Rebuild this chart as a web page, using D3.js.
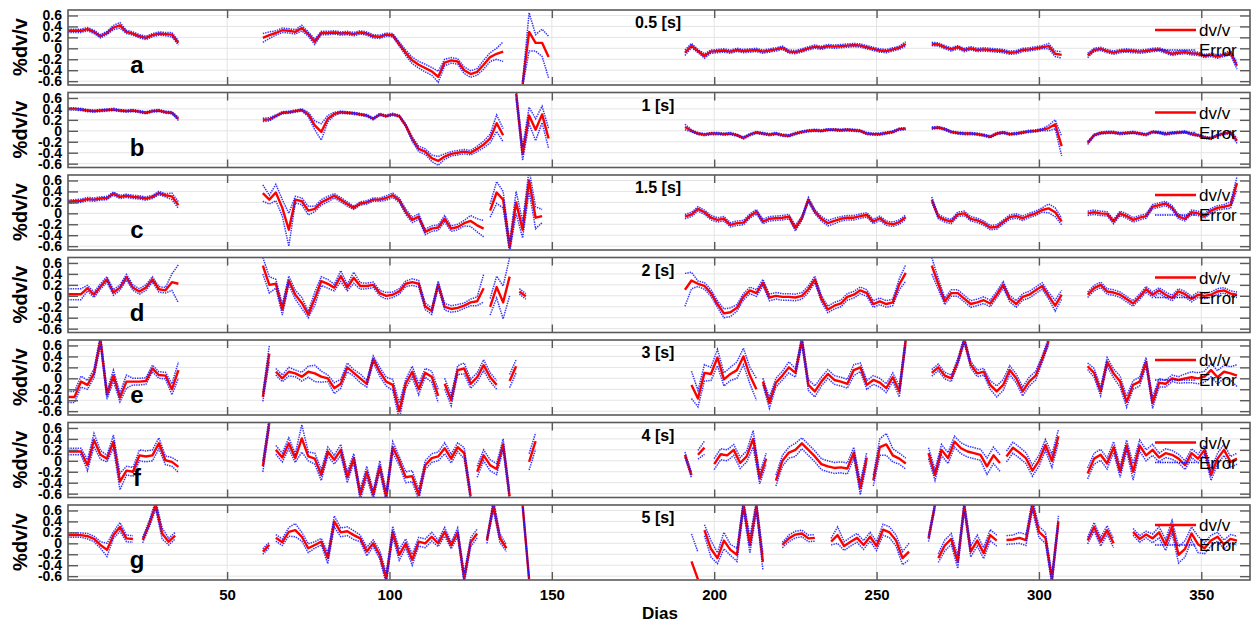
<!DOCTYPE html>
<html><head><meta charset="utf-8">
<script src="https://cdn.jsdelivr.net/npm/d3@7"></script>
<style>body{margin:0;background:#fff;} svg{display:block;font-family:"Liberation Sans",Arial,sans-serif;}</style>
</head><body><svg id="c" width="1254" height="622"></svg>
<script>
const periods = ["0.5 [s]","1 [s]","1.5 [s]","2 [s]","3 [s]","4 [s]","5 [s]"];
const letters = ["a","b","c","d","e","f","g"];
const yTicks = [-0.6,-0.4,-0.2,0,0.2,0.4,0.6];
const xTicks = [50,100,150,200,250,300,350];
const xLabel = "Dias", yLabel = "%dv/v";
const legendLabels = ["dv/v","Error"];
const dayStep = 2;

// ---- Panel a (0.5 s) ----
const startsA = [1,61,141,191,267,315];
const dvA = [
[0.32,0.32,0.32,0.35,0.30,0.22,0.28,0.38,0.42,0.30,0.27,0.22,0.19,0.24,0.27,0.26,0.25,0.10],
[0.19,0.24,0.28,0.33,0.32,0.30,0.37,0.26,0.12,0.28,0.28,0.29,0.27,0.28,0.26,0.29,0.27,0.22,0.21,0.25,0.24,0.08,-0.08,-0.22,-0.30,-0.36,-0.42,-0.52,-0.26,-0.22,-0.24,-0.40,-0.47,-0.43,-0.30,-0.16,-0.10,-0.06],
[-0.65,0.30,0.10,0.10,-0.16],
[-0.08,0.05,-0.05,-0.14,-0.06,-0.05,-0.04,-0.06,-0.03,-0.05,-0.04,-0.03,-0.06,-0.04,-0.02,0.01,-0.06,-0.07,-0.04,0.00,0.03,0.01,0.04,0.03,0.04,0.05,0.06,0.05,0.02,-0.01,-0.04,-0.05,-0.02,0.01,0.08],
[0.08,0.07,0.02,-0.02,0.02,-0.03,0.00,-0.03,-0.02,-0.03,-0.04,-0.05,-0.08,-0.07,-0.03,-0.02,0.00,0.02,0.04,-0.10,-0.12],
[-0.13,-0.03,-0.01,-0.05,-0.08,-0.05,-0.04,-0.05,-0.06,-0.05,-0.03,-0.02,-0.06,-0.10,-0.08,-0.07,-0.09,-0.10,-0.14,-0.12,-0.15,-0.12,-0.08,-0.32]];
const erA = [
[0.03,0.03,0.03,0.03,0.03,0.03,0.03,0.04,0.05,0.03,0.03,0.03,0.03,0.03,0.03,0.03,0.04,0.04],
[0.08,0.06,0.04,0.04,0.04,0.04,0.05,0.04,0.05,0.03,0.03,0.03,0.03,0.03,0.03,0.03,0.03,0.03,0.03,0.03,0.03,0.04,0.05,0.06,0.06,0.07,0.07,0.10,0.06,0.05,0.05,0.06,0.06,0.06,0.08,0.08,0.10,0.18],
[0.05,0.35,0.15,0.25,0.38],
[0.05,0.04,0.03,0.04,0.03,0.03,0.03,0.03,0.03,0.03,0.03,0.03,0.03,0.03,0.03,0.03,0.03,0.03,0.03,0.03,0.03,0.03,0.03,0.03,0.03,0.03,0.03,0.03,0.03,0.03,0.03,0.03,0.03,0.03,0.04],
[0.03,0.03,0.03,0.03,0.03,0.03,0.03,0.03,0.03,0.03,0.03,0.03,0.03,0.03,0.03,0.03,0.03,0.03,0.05,0.05,0.06],
[0.04,0.03,0.03,0.03,0.03,0.03,0.03,0.03,0.03,0.03,0.03,0.03,0.03,0.03,0.03,0.03,0.03,0.03,0.03,0.03,0.03,0.03,0.04,0.06]];

// ---- Panel b (1 s) ----
const startsB = [1,61,139,191,267,315];
const dvB = [
[0.40,0.40,0.39,0.37,0.36,0.37,0.38,0.39,0.37,0.36,0.37,0.35,0.33,0.36,0.37,0.34,0.33,0.22],
[0.20,0.21,0.27,0.33,0.34,0.36,0.38,0.30,0.10,-0.02,0.22,0.31,0.34,0.33,0.32,0.30,0.28,0.22,0.30,0.27,0.30,0.27,0.10,-0.15,-0.33,-0.38,-0.50,-0.55,-0.47,-0.42,-0.40,-0.38,-0.40,-0.33,-0.25,-0.14,0.14,-0.08],
[0.68,-0.42,0.28,0.02,0.30,-0.14],
[0.07,0.00,-0.05,-0.07,-0.05,-0.05,-0.06,-0.05,-0.08,-0.13,-0.07,-0.03,-0.05,-0.07,-0.05,-0.08,-0.09,-0.05,-0.02,0.00,0.01,0.00,0.02,0.02,0.01,0.02,0.01,0.00,-0.05,-0.06,-0.06,-0.04,-0.02,0.03,0.04],
[0.05,0.06,0.03,-0.02,-0.04,-0.05,-0.05,-0.06,-0.08,-0.11,-0.05,-0.03,-0.06,-0.05,-0.03,-0.01,0.00,0.02,0.05,0.12,-0.28],
[-0.22,-0.08,-0.04,-0.03,-0.03,-0.05,-0.04,-0.03,-0.05,-0.07,-0.02,-0.03,-0.06,-0.04,-0.03,-0.02,-0.06,-0.08,-0.12,-0.14,-0.08,-0.05,-0.03,-0.18]];
const erB = [
[0.02,0.02,0.02,0.02,0.02,0.02,0.02,0.02,0.02,0.02,0.02,0.02,0.02,0.02,0.02,0.02,0.02,0.03],
[0.03,0.03,0.02,0.02,0.02,0.02,0.02,0.04,0.08,0.15,0.06,0.03,0.02,0.02,0.02,0.02,0.02,0.02,0.02,0.02,0.02,0.02,0.03,0.04,0.05,0.05,0.06,0.08,0.05,0.04,0.04,0.04,0.04,0.05,0.06,0.08,0.15,0.12],
[0.10,0.12,0.15,0.20,0.15,0.18],
[0.05,0.02,0.02,0.02,0.02,0.02,0.02,0.02,0.02,0.02,0.02,0.02,0.02,0.02,0.02,0.02,0.02,0.02,0.02,0.02,0.02,0.02,0.02,0.02,0.02,0.02,0.02,0.02,0.02,0.02,0.02,0.02,0.02,0.02,0.02],
[0.02,0.02,0.02,0.02,0.02,0.02,0.02,0.02,0.02,0.02,0.02,0.02,0.02,0.02,0.02,0.02,0.02,0.02,0.05,0.08,0.18],
[0.03,0.02,0.02,0.02,0.02,0.02,0.02,0.02,0.02,0.02,0.02,0.02,0.02,0.02,0.02,0.02,0.02,0.02,0.02,0.02,0.02,0.02,0.02,0.05]];

// ---- Panel c (1.5 s) ----
const startsC = [1,61,131,191,267,315];
const dvC = [
[0.21,0.22,0.23,0.26,0.25,0.27,0.28,0.36,0.30,0.32,0.30,0.29,0.27,0.30,0.37,0.33,0.31,0.15],
[0.37,0.25,0.38,0.10,-0.30,0.25,0.22,0.05,0.08,0.20,0.26,0.32,0.25,0.17,0.10,0.18,0.20,0.25,0.25,0.28,0.33,0.24,0.03,-0.12,-0.06,-0.34,-0.28,-0.26,-0.10,-0.28,-0.25,-0.18,-0.14,-0.22,-0.28],
[0.05,0.38,0.25,-0.62,0.20,-0.30,0.60,-0.08,-0.05],
[-0.06,-0.02,0.08,0.02,-0.08,-0.12,-0.10,-0.21,-0.18,-0.17,-0.05,0.03,-0.15,-0.10,-0.09,-0.08,-0.06,-0.27,-0.09,0.25,0.03,-0.10,-0.18,-0.14,-0.10,-0.08,-0.08,-0.05,-0.03,-0.15,-0.09,-0.18,-0.20,-0.16,-0.07],
[0.25,-0.06,-0.12,-0.15,-0.02,0.00,-0.10,-0.13,-0.18,-0.26,-0.25,-0.16,-0.07,-0.05,-0.09,-0.04,0.00,0.06,0.09,0.02,-0.15],
[0.00,0.02,0.00,-0.01,-0.15,0.00,-0.05,-0.12,-0.08,-0.05,0.12,0.15,0.18,0.10,-0.06,-0.10,0.02,0.00,-0.05,0.05,0.10,0.12,0.15,0.55]];
const erC = [
[0.03,0.03,0.03,0.03,0.03,0.03,0.03,0.03,0.03,0.03,0.03,0.03,0.03,0.03,0.03,0.03,0.06,0.06],
[0.15,0.08,0.15,0.15,0.30,0.06,0.06,0.08,0.05,0.05,0.05,0.04,0.04,0.04,0.03,0.03,0.03,0.03,0.03,0.04,0.04,0.04,0.05,0.05,0.05,0.05,0.05,0.05,0.06,0.05,0.05,0.05,0.10,0.12,0.15],
[0.12,0.20,0.15,0.10,0.20,0.15,0.20,0.20,0.12],
[0.04,0.04,0.04,0.04,0.04,0.04,0.04,0.04,0.04,0.04,0.04,0.04,0.04,0.04,0.04,0.04,0.04,0.05,0.04,0.04,0.04,0.04,0.05,0.05,0.04,0.04,0.04,0.04,0.04,0.04,0.04,0.04,0.04,0.04,0.04],
[0.05,0.04,0.04,0.04,0.04,0.04,0.04,0.04,0.04,0.04,0.04,0.04,0.04,0.04,0.04,0.04,0.04,0.04,0.08,0.08,0.06],
[0.04,0.04,0.04,0.04,0.04,0.04,0.04,0.04,0.04,0.04,0.04,0.04,0.04,0.04,0.04,0.04,0.04,0.04,0.04,0.04,0.04,0.04,0.06,0.12]];

// ---- Panel d (2 s) ----
const startsD = [1,61,131,140,191,267,315];
const dvD = [
[0.03,0.03,0.03,0.14,0.02,0.17,0.30,0.06,0.15,0.34,0.15,0.08,0.15,0.30,0.12,0.10,0.25,0.22],
[0.55,0.20,0.22,-0.25,0.28,0.02,-0.13,-0.34,-0.05,0.27,0.22,0.15,0.36,0.15,0.33,0.18,0.18,0.20,0.05,0.00,0.02,0.08,0.22,0.25,0.22,-0.19,-0.28,0.21,-0.20,-0.24,-0.22,-0.18,-0.12,-0.10,0.14],
[-0.20,0.16,-0.12,0.35],
[0.08,-0.01],
[0.11,0.28,0.22,0.18,0.05,-0.15,-0.32,-0.30,-0.22,-0.02,0.10,0.05,0.24,-0.03,0.00,-0.02,-0.02,-0.03,0.00,0.12,0.30,-0.05,-0.25,-0.18,-0.14,-0.02,0.02,0.10,0.05,-0.15,-0.10,-0.15,-0.12,0.21,0.42],
[0.55,0.22,-0.10,0.05,0.05,-0.05,-0.15,-0.12,-0.08,-0.14,0.02,0.20,-0.05,-0.15,-0.02,0.02,0.10,0.18,0.00,-0.18,0.02],
[0.02,0.14,0.20,0.08,0.06,0.02,-0.06,-0.14,-0.02,0.12,0.02,0.10,0.02,-0.04,0.08,0.03,-0.06,0.02,0.00,0.02,0.08,0.10,0.04,0.02]];
const erD = [
[0.10,0.10,0.10,0.05,0.05,0.05,0.05,0.05,0.05,0.05,0.05,0.05,0.05,0.05,0.05,0.05,0.15,0.35],
[0.15,0.15,0.08,0.10,0.08,0.08,0.10,0.06,0.12,0.08,0.08,0.06,0.10,0.06,0.10,0.06,0.05,0.05,0.05,0.06,0.05,0.05,0.05,0.06,0.06,0.06,0.06,0.06,0.06,0.06,0.06,0.05,0.06,0.08,0.25],
[0.15,0.20,0.30,0.35],
[0.05,0.05],
[0.30,0.15,0.05,0.06,0.06,0.06,0.08,0.08,0.06,0.06,0.06,0.06,0.06,0.06,0.06,0.06,0.06,0.06,0.06,0.06,0.06,0.06,0.06,0.06,0.06,0.06,0.06,0.06,0.06,0.06,0.06,0.06,0.06,0.10,0.15],
[0.15,0.10,0.06,0.06,0.06,0.06,0.06,0.06,0.06,0.06,0.06,0.06,0.06,0.06,0.06,0.06,0.06,0.06,0.06,0.10,0.08],
[0.05,0.05,0.05,0.05,0.05,0.05,0.05,0.05,0.05,0.05,0.05,0.05,0.05,0.05,0.05,0.05,0.05,0.05,0.05,0.05,0.05,0.05,0.05,0.05]];

// ---- Panel e (3 s) ----
const startsE = [1,61,65,117,137,193,215,267,315];
const dvE = [
[-0.34,-0.34,-0.06,-0.12,0.09,0.70,-0.30,0.05,-0.35,-0.06,-0.06,-0.06,-0.05,0.18,0.06,0.05,-0.20,0.15],
[-0.34,0.45],
[0.12,0.00,0.12,0.09,0.03,0.12,0.09,0.03,0.00,-0.18,-0.10,0.20,0.10,0.00,-0.10,0.35,0.12,-0.06,-0.12,-0.60,-0.10,0.12,-0.20,0.10,0.03,-0.32],
[-0.10,-0.40,0.15,0.18,-0.10,0.02,0.24,0.02,-0.12],
[-0.05,0.22],
[-0.12,-0.37,0.10,0.08,0.38,-0.02,0.08,0.15,0.40,0.05,-0.20],
[-0.06,-0.45,-0.08,0.05,0.20,0.10,0.70,-0.12,-0.24,-0.06,0.08,-0.03,-0.06,-0.10,0.15,0.20,-0.12,-0.03,-0.08,-0.18,0.02,-0.24,0.70],
[0.10,0.20,0.05,0.00,0.30,0.70,0.25,0.09,0.12,-0.12,-0.24,-0.12,0.15,0.00,-0.24,-0.06,0.05,0.35,0.68],
[0.22,0.10,-0.24,0.30,0.09,-0.06,-0.43,-0.12,-0.06,0.30,-0.45,-0.08,-0.10,0.00,-0.03,0.00,0.02,0.00,0.03,0.15,0.02,0.12,0.09,0.05]];
const erE = [
[0.10,0.10,0.10,0.08,0.08,0.10,0.08,0.10,0.08,0.12,0.06,0.06,0.06,0.06,0.06,0.06,0.10,0.15],
[0.08,0.15],
[0.06,0.06,0.08,0.06,0.08,0.10,0.15,0.10,0.06,0.10,0.08,0.08,0.06,0.08,0.06,0.06,0.08,0.08,0.10,0.15,0.08,0.10,0.10,0.08,0.10,0.12],
[0.10,0.10,0.08,0.10,0.08,0.08,0.10,0.08,0.08],
[0.12,0.12],
[0.25,0.15,0.15,0.12,0.15,0.12,0.12,0.15,0.15,0.15,0.20],
[0.06,0.10,0.08,0.08,0.10,0.08,0.08,0.10,0.10,0.08,0.08,0.08,0.08,0.08,0.10,0.08,0.08,0.08,0.08,0.08,0.08,0.10,0.10],
[0.06,0.06,0.06,0.06,0.06,0.06,0.06,0.06,0.06,0.08,0.10,0.10,0.08,0.08,0.08,0.08,0.08,0.06,0.06],
[0.06,0.08,0.08,0.08,0.08,0.10,0.10,0.08,0.08,0.08,0.10,0.08,0.06,0.06,0.06,0.08,0.10,0.10,0.10,0.12,0.12,0.12,0.12,0.20]];

// ---- Panel f (4 s) ----
const startsF = [1,61,65,127,143,191,195,200,219,249,266,290,315];
const dvF = [
[0.17,0.17,0.17,-0.08,0.38,0.11,0.04,0.35,-0.38,-0.18,-0.20,0.10,0.08,0.10,0.32,0.01,-0.02,-0.11],
[-0.10,0.70],
[0.20,0.06,0.32,0.05,0.41,0.08,0.04,-0.26,0.17,0.02,0.20,-0.30,0.05,-0.62,-0.20,-0.62,-0.10,-0.65,0.25,0.00,-0.30,-0.28,-0.62,-0.08,0.05,0.08,0.23,0.04,0.25,0.14,-0.65],
[-0.20,0.10,-0.08,-0.15,0.30,-0.65],
[-0.02,0.36],
[0.11,-0.26],
[0.11,0.24],
[-0.06,0.12,0.10,0.20,-0.04,0.08,0.40,-0.32,0.04],
[-0.36,0.00,0.15,0.20,0.32,0.20,0.08,-0.06,-0.10,-0.13,-0.12,-0.14,0.15,-0.50,0.06],
[-0.36,0.25,0.30,0.10,0.04,-0.05],
[0.14,-0.26,0.20,0.05,0.35,0.23,0.17,0.14,0.11,-0.10,0.10,-0.04],
[0.08,0.24,0.15,0.05,-0.18,0.00,0.29,0.00,0.45],
[-0.23,0.04,0.11,-0.05,0.25,-0.20,0.28,-0.20,0.28,0.10,0.20,0.06,0.14,0.11,0.04,-0.08,0.14,0.04,0.20,-0.26,0.04,0.20,-0.02,0.04]];
const erF = [
[0.06,0.06,0.06,0.10,0.12,0.08,0.06,0.12,0.15,0.08,0.08,0.10,0.10,0.10,0.10,0.08,0.08,0.10],
[0.10,0.10],
[0.08,0.08,0.10,0.08,0.25,0.08,0.10,0.10,0.08,0.08,0.10,0.10,0.08,0.10,0.10,0.08,0.10,0.10,0.10,0.08,0.10,0.10,0.10,0.08,0.08,0.08,0.10,0.08,0.08,0.10,0.10],
[0.10,0.10,0.10,0.10,0.10,0.10],
[0.15,0.15],
[0.05,0.05],
[0.08,0.12],
[0.10,0.10,0.10,0.10,0.10,0.10,0.15,0.10,0.10],
[0.10,0.10,0.10,0.12,0.10,0.10,0.10,0.10,0.10,0.10,0.10,0.10,0.10,0.12,0.10],
[0.10,0.15,0.20,0.12,0.10,0.10],
[0.10,0.10,0.10,0.10,0.10,0.10,0.10,0.10,0.10,0.15,0.15,0.15],
[0.10,0.10,0.10,0.10,0.10,0.10,0.10,0.12,0.12],
[0.10,0.10,0.10,0.10,0.10,0.10,0.10,0.15,0.10,0.10,0.10,0.08,0.08,0.08,0.08,0.08,0.08,0.08,0.08,0.10,0.10,0.10,0.10,0.10]];

// ---- Panel g (5 s) ----
const startsG = [1,24,61,65,130,141,193,197,221,236,266,269,290,315,329];
const dvG = [
[0.15,0.15,0.15,0.13,0.08,-0.03,-0.12,0.15,0.30,0.09,0.08],
[0.06,0.35,0.70,0.18,0.03,0.14],
[-0.15,-0.03],
[0.10,0.02,0.21,0.24,0.12,-0.09,-0.03,0.03,-0.27,0.40,0.20,0.22,0.15,0.09,-0.15,0.00,-0.21,-0.64,0.21,-0.21,0.00,-0.30,0.03,0.00,0.12,0.00,0.21,-0.04,0.20,-0.64,0.02,0.18],
[0.05,0.70,0.10,-0.09],
[0.70,-0.66],
[-0.33,-0.66],
[0.24,-0.10,-0.27,0.05,-0.12,-0.21,0.70,-0.03,0.68,-0.34],
[-0.03,0.09,0.16,0.18,0.09,0.10],
[0.03,0.15,-0.05,0.03,0.10,-0.03,0.12,-0.05,0.25,0.20,0.05,-0.27,-0.15],
[0.09,0.70],
[-0.27,-0.04,0.08,-0.34,0.68,-0.15,0.05,-0.18,0.15,0.05],
[0.06,0.07,0.10,0.06,0.70,0.21,0.10,-0.66,0.40],
[0.05,0.30,0.03,0.24,0.00],
[0.21,0.08,0.16,0.09,0.20,-0.03,0.30,-0.21,-0.10,0.18,-0.02,-0.09,0.05,0.12,-0.02,0.08,0.05]];
const erG = [
[0.04,0.04,0.04,0.05,0.05,0.06,0.12,0.06,0.08,0.06,0.06],
[0.05,0.06,0.08,0.10,0.06,0.06],
[0.05,0.05],
[0.06,0.06,0.08,0.12,0.08,0.08,0.06,0.06,0.10,0.10,0.08,0.08,0.08,0.06,0.08,0.06,0.08,0.10,0.10,0.10,0.08,0.10,0.08,0.08,0.08,0.06,0.08,0.06,0.08,0.10,0.08,0.08],
[0.05,0.10,0.08,0.06],
[0.05,0.05],
[0.50,0.50],
[0.10,0.15,0.10,0.15,0.10,0.12,0.10,0.15,0.10,0.15],
[0.05,0.06,0.06,0.06,0.06,0.06],
[0.06,0.15,0.08,0.08,0.08,0.08,0.08,0.08,0.10,0.10,0.10,0.12,0.15],
[0.06,0.06],
[0.08,0.10,0.10,0.12,0.10,0.10,0.10,0.10,0.10,0.10],
[0.08,0.08,0.10,0.10,0.10,0.10,0.10,0.10,0.10],
[0.06,0.08,0.08,0.08,0.08],
[0.06,0.06,0.06,0.08,0.10,0.10,0.12,0.15,0.15,0.12,0.15,0.10,0.10,0.08,0.08,0.08,0.08]];

const panels = [
  {starts:startsA, dv:dvA, er:erA},
  {starts:startsB, dv:dvB, er:erB},
  {starts:startsC, dv:dvC, er:erC},
  {starts:startsD, dv:dvD, er:erD},
  {starts:startsE, dv:dvE, er:erE},
  {starts:startsF, dv:dvF, er:erF},
  {starts:startsG, dv:dvG, er:erG}
];

const left = 68, right = 1250, top0 = 10, pStep = 82.5, pH = 75;
const x = d3.scaleLinear().domain([1,365]).range([left,right]);
const svg = d3.select('#c');
const defs = svg.append('defs');
const frameCol = '#5a5a5a';
const blue = '#1010ff';

panels.forEach((p,k) => {
  const T = top0 + k*pStep;
  const y = d3.scaleLinear().domain([-0.67,0.70]).range([T+pH, T]);
  const g = svg.append('g');
  defs.append('clipPath').attr('id','clip'+k).append('rect')
    .attr('x',left).attr('y',T).attr('width',right-left).attr('height',pH);

  g.append('rect').attr('x',left).attr('y',T).attr('width',right-left).attr('height',pH).attr('fill','#fff');
  // grid
  g.selectAll('.hg').data(yTicks).enter().append('line')
    .attr('x1',left).attr('x2',right).attr('y1',d=>y(d)).attr('y2',d=>y(d))
    .attr('stroke','#e4e4e4').attr('stroke-width',1);
  g.selectAll('.vg').data(xTicks).enter().append('line')
    .attr('y1',T).attr('y2',T+pH).attr('x1',d=>x(d)).attr('x2',d=>x(d))
    .attr('stroke','#e4e4e4').attr('stroke-width',1);

  const dg = g.append('g').attr('clip-path','url(#clip'+k+')');
  const segs = p.starts.map((s,si) => p.dv[si].map((v,i) => ({
    day: s + i*dayStep, v: v,
    e: (p.er[si] && p.er[si][i] != null) ? p.er[si][i] : 0.05
  })));
  const lineV = d3.line().x(d=>x(d.day)).y(d=>y(d.v));
  const lineU = d3.line().x(d=>x(d.day)).y(d=>y(d.v+d.e));
  const lineL = d3.line().x(d=>x(d.day)).y(d=>y(d.v-d.e));
  segs.forEach(s => {
    dg.append('path').attr('d',lineV(s)).attr('fill','none')
      .attr('stroke','#ff0000').attr('stroke-width',2.4).attr('stroke-linejoin','round');
  });
  segs.forEach(s => {
    [lineU,lineL].forEach(L => {
      dg.append('path').attr('d',L(s)).attr('fill','none')
        .attr('stroke',blue).attr('stroke-width',1.5).attr('stroke-dasharray','1.4,1')
        .attr('opacity',0.85);
    });
  });

  // axes (inward ticks)
  const ax = g.append('g').attr('transform',`translate(${left},0)`)
    .call(d3.axisLeft(y).tickValues(yTicks).tickSizeInner(-10).tickSizeOuter(0).tickPadding(6).tickFormat(d=>String(d)));
  const ax2 = g.append('g').attr('transform',`translate(${right},0)`)
    .call(d3.axisRight(y).tickValues(yTicks).tickSizeInner(-10).tickSizeOuter(0).tickFormat(''));
  const ax3 = g.append('g').attr('transform',`translate(0,${T})`)
    .call(d3.axisTop(x).tickValues(xTicks).tickSizeInner(-8).tickSizeOuter(0).tickFormat(''));
  const ax4 = g.append('g').attr('transform',`translate(0,${T+pH})`)
    .call(d3.axisBottom(x).tickValues(xTicks).tickSizeInner(-8).tickSizeOuter(0).tickPadding(9)
      .tickFormat(k===panels.length-1 ? (d=>String(d)) : ''));
  [ax,ax2,ax3,ax4].forEach(a => {
    a.select('.domain').remove();
    a.selectAll('.tick line').attr('stroke',frameCol).attr('stroke-width',1.4);
    a.selectAll('.tick text').attr('fill','#000').attr('font-weight','bold')
      .attr('font-family','"Liberation Sans",Arial,sans-serif');
  });
  ax.selectAll('.tick text').attr('font-size',14);
  ax4.selectAll('.tick text').attr('font-size',15);

  // frame
  g.append('rect').attr('x',left).attr('y',T).attr('width',right-left).attr('height',pH)
    .attr('fill','none').attr('stroke',frameCol).attr('stroke-width',1.6);

  // y label
  g.append('text').attr('transform',`translate(27,${T+37}) rotate(-90)`)
    .attr('text-anchor','middle').attr('font-weight','bold').attr('font-size',20).text(yLabel);
  // panel letter
  g.append('text').attr('x',137).attr('y',T+63).attr('text-anchor','middle')
    .attr('font-weight','bold').attr('font-size',24).text(letters[k]);
  // title
  g.append('text').attr('x',658).attr('y',T+18).attr('text-anchor','middle')
    .attr('font-weight','bold').attr('font-size',16).text(periods[k]);
  // legend
  g.append('line').attr('x1',1155).attr('x2',1196).attr('y1',T+20).attr('y2',T+20)
    .attr('stroke','#ff0000').attr('stroke-width',2.4);
  g.append('text').attr('x',1199).attr('y',T+26).attr('font-size',17).text(legendLabels[0]);
  g.append('line').attr('x1',1155).attr('x2',1196).attr('y1',T+40).attr('y2',T+40)
    .attr('stroke',blue).attr('stroke-width',1.5).attr('stroke-dasharray','1.4,1');
  g.append('text').attr('x',1199).attr('y',T+46).attr('font-size',17).text(legendLabels[1]);
});

svg.append('text').attr('x',660).attr('y',619).attr('text-anchor','middle')
  .attr('font-weight','bold').attr('font-size',17).text(xLabel);
</script>
</body></html>
